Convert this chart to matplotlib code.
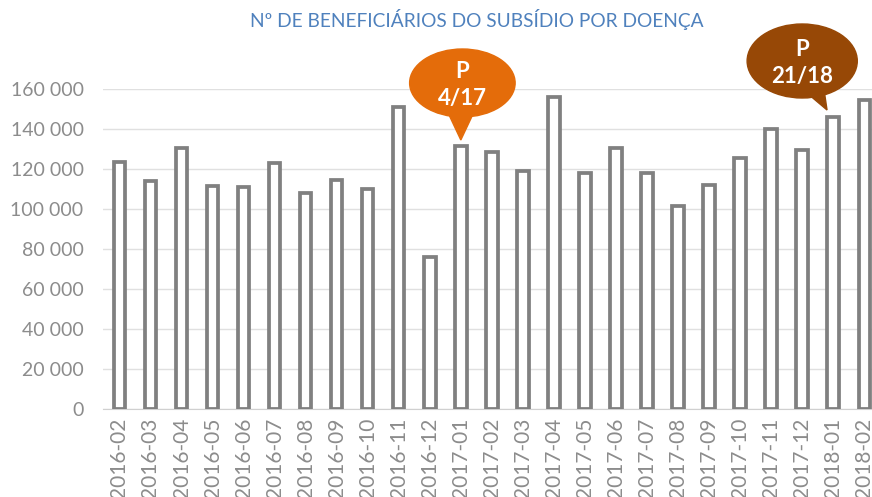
import matplotlib.pyplot as plt
from matplotlib.patches import Ellipse, Polygon

plt.rcParams['font.family'] = ['Lato', 'DejaVu Sans']

# Monthly values
months = ["2016-02", "2016-03", "2016-04", "2016-05", "2016-06", "2016-07",
          "2016-08", "2016-09", "2016-10", "2016-11", "2016-12", "2017-01",
          "2017-02", "2017-03", "2017-04", "2017-05", "2017-06", "2017-07",
          "2017-08", "2017-09", "2017-10", "2017-11", "2017-12", "2018-01",
          "2018-02"]
beneficiarios = [123400, 113800, 130500, 111700, 111200, 123000,
                 107800, 114500, 110200, 150800, 76200, 131300,
                 128700, 119000, 155800, 118200, 130500, 118200,
                 101500, 112000, 125700, 140000, 129500, 146200,
                 154500]
yticks = [0, 20000, 40000, 60000, 80000, 100000, 120000, 140000, 160000]

# Callouts: (month, text, colour)
callouts = [("2017-01", "P\n4/17", "#E46C0A"),
            ("2018-01", "P\n21/18", "#974806")]

W, H = 872, 497
fig = plt.figure(figsize=(W / 100, H / 100), dpi=100)
ax = fig.add_axes([103 / W, (H - 409) / H, (W - 103) / W + 0.01, (409 - 89) / H])

x = list(range(len(months)))
ax.bar(x, beneficiarios, width=0.37, color="white", edgecolor="#808080",
       linewidth=2.7, zorder=3)

ax.set_xlim(-0.53, 24.53)
ax.set_ylim(0, 160000)
ax.set_yticks(yticks)
ax.set_yticklabels([f"{v:,}".replace(",", " ") for v in yticks])
ax.set_xticks(x)
ax.set_xticklabels(months, rotation=90)
ax.tick_params(axis="y", length=0, pad=14, labelsize=14, labelcolor="#8c8c8c")
ax.tick_params(axis="x", length=0, pad=6, labelsize=15, labelcolor="#8c8c8c")
ax.grid(axis="y", color="#e0e0e0", linewidth=1, zorder=0)
for side in ["left", "right", "top"]:
    ax.spines[side].set_visible(False)
ax.spines["bottom"].set_color("#d0d0d0")

# Speech-bubble callouts pointing at a bar
for month, label, col in callouts:
    i = months.index(month)
    val = beneficiarios[i]
    if month == "2017-01":
        cx, cy, ew, eh = i + 0.05, 163000, 3.4, 34000
        tip = (i, val + 3200)
        base = [(i - 0.5, cy - 12000), (i + 0.5, cy - 12000)]
    else:
        cx, cy, ew, eh = i - 1.0, 174000, 3.55, 37000
        tip = (i - 0.2, val + 3300)
        base = [(i - 1.0, cy - 14000), (i - 0.3, cy - 14000)]
    ax.add_patch(Ellipse((cx, cy), ew, eh, color=col, clip_on=False, zorder=5))
    ax.add_patch(Polygon([base[0], tip, base[1]], closed=True, color=col,
                         clip_on=False, zorder=5))
    ax.text(cx, cy - 1000, label, ha="center", va="center", color="white",
            fontsize=16, fontweight="bold", linespacing=1.35, zorder=6)

fig.text(477 / W, 1 - 20 / H, "Nº DE BENEFICIÁRIOS DO SUBSÍDIO POR DOENÇA",
         ha="center", va="center", color="#4F81BD", fontsize=13.8)

fig.savefig("out.png", dpi=100)
